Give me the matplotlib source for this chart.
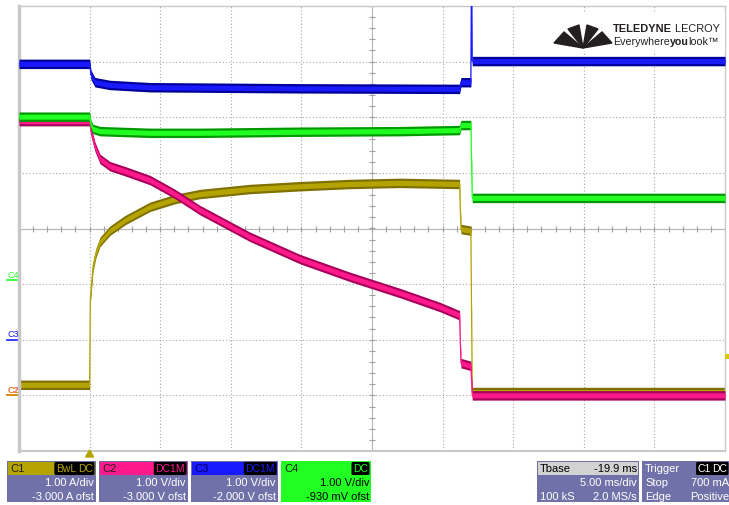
import numpy as np
import matplotlib
matplotlib.use("Agg")
import matplotlib.pyplot as plt
from matplotlib.patches import Rectangle, Polygon

plt.rcParams['font.family'] = ['Liberation Sans', 'DejaVu Sans']

W, H, DPI = 729, 506, 100

# ---- timebase / screen ----
T_LEFT_MS = -5.0
MS_PER_DIV = 5.0
N_HDIV, N_VDIV = 10, 8

# ---- channel settings (scale per div, offset) ----
c1_scale, c1_offset = 1.0, -3.0     # A/div, A
c2_scale, c2_offset = 1.0, -3.0     # V/div, V
c3_scale, c3_offset = 1.0, -2.0     # V/div, V
c4_scale, c4_offset = 1.0, -0.93    # V/div, V
trig_level = 0.7                    # A

# ---- traces (time in ms, values in channel units) ----
c1_t = [-5, 0.0, 0.05, 0.24, 0.45, 0.74, 1.44, 2.51, 4.28, 6.05, 7.82, 11.36, 14.9,
        18.44, 21.98, 26.2, 26.3, 27.0, 27.1, 45]
c1_val = [0.19, 0.19, 1.73, 2.31, 2.56, 2.76, 2.96, 3.15, 3.39, 3.53, 3.62, 3.71, 3.76,
          3.80, 3.82, 3.80, 2.99, 2.96, 0.06, 0.06]

c2_t = [-5, 0.0, 0.1, 0.38, 0.74, 1.44, 2.51, 4.28, 6.05, 7.82, 11.36, 14.9, 18.44,
        21.98, 24.8, 26.2, 26.3, 27.0, 27.1, 45]
c2_val = [4.93, 4.93, 4.75, 4.47, 4.25, 4.12, 4.03, 3.87, 3.62, 3.33, 2.85, 2.45, 2.13,
          1.84, 1.59, 1.44, 0.58, 0.53, 0.00, 0.00]

c3_t = [-5, 0.0, 0.1, 0.38, 1.44, 4.28, 14.9, 26.2, 26.3, 27.0, 27.05, 27.1, 45]
c3_val = [4.96, 4.96, 4.76, 4.63, 4.58, 4.54, 4.52, 4.51, 4.63, 4.63, 6.8, 5.01, 5.01]

c4_t = [-5, 0.0, 0.1, 0.24, 0.74, 4.28, 7.82, 14.9, 21.98, 26.2, 26.3, 27.0, 27.1, 45]
c4_val = [2.94, 2.94, 2.79, 2.72, 2.68, 2.65, 2.65, 2.67, 2.68, 2.70, 2.79, 2.79, 1.48, 1.48]

# ---- styles ----
C1_COL, C1_DARK = '#b5a400', '#7f7000'
C2_COL, C2_DARK = '#ff1a8c', '#a8005a'
C3_COL, C3_DARK = '#1a1aff', '#00009a'
C4_COL, C4_DARK = '#22ff22', '#009a00'
PANEL = '#7171a9'

fig = plt.figure(figsize=(W / DPI, H / DPI), dpi=DPI)
fig.patch.set_facecolor('white')
renderer = fig.canvas.get_renderer()

GX0, GY0, GX1, GY1 = 19, 7, 725, 452   # grid box in pixels
ax = fig.add_axes([GX0 / W, 1 - GY1 / H, (GX1 - GX0) / W, (GY1 - GY0) / H])
ax.set_xlim(T_LEFT_MS, T_LEFT_MS + N_HDIV * MS_PER_DIV)
ax.set_ylim(-N_VDIV / 2, N_VDIV / 2)
ax.set_xticks([]); ax.set_yticks([])
for s in ax.spines.values():
    s.set_color('#c8c8c8'); s.set_linewidth(1.0)
ax.spines['left'].set_linewidth(2.5)
ax.spines['bottom'].set_linewidth(1.5)

# grid
for i in range(1, N_HDIV):
    xv = T_LEFT_MS + i * MS_PER_DIV
    if i == N_HDIV // 2:
        ax.axvline(xv, color='#b4b4b4', lw=0.8, zorder=0)
    else:
        ax.axvline(xv, color='#a8a8a8', lw=0.8, ls=(0, (1, 2)), zorder=0)
for j in range(1, N_VDIV):
    yv = -N_VDIV / 2 + j
    if j == N_VDIV // 2:
        ax.axhline(yv, color='#b4b4b4', lw=0.8, zorder=0)
    else:
        ax.axhline(yv, color='#a8a8a8', lw=0.8, ls=(0, (1, 2)), zorder=0)
# center minor ticks
xc = T_LEFT_MS + N_HDIV / 2 * MS_PER_DIV
xt = np.arange(T_LEFT_MS, T_LEFT_MS + N_HDIV * MS_PER_DIV + 1e-9, MS_PER_DIV / 5)
ax.plot(xt, np.zeros_like(xt), ls='none', marker='|', ms=5, color='#a0a0a0', mew=0.8, zorder=0)
yt = np.arange(-N_VDIV / 2, N_VDIV / 2 + 1e-9, 0.2)
ax.plot(np.full_like(yt, xc), yt, ls='none', marker='_', ms=5, color='#a0a0a0', mew=0.8, zorder=0)


def trace(t, v, scale, offset, col, dark, z):
    t = np.asarray(t, float)
    d = (np.asarray(v, float) + offset) / scale
    ax.fill_between(t, d - 0.085, d + 0.085, color=dark, lw=0, zorder=z)
    ax.fill_between(t, d - 0.045, d + 0.045, color=col, lw=0, zorder=z + 0.1)
    ax.plot(t, d, color=col, lw=0.9, zorder=z + 0.2)


trace(c1_t, c1_val, c1_scale, c1_offset, C1_COL, C1_DARK, 2)
trace(c2_t, c2_val, c2_scale, c2_offset, C2_COL, C2_DARK, 3)
trace(c3_t, c3_val, c3_scale, c3_offset, C3_COL, C3_DARK, 4)
trace(c4_t, c4_val, c4_scale, c4_offset, C4_COL, C4_DARK, 5)


# ---------- figure-pixel helpers ----------
def fx(x):
    return x / W


def fy(y):
    return 1 - y / H


def rect(x0, y0, x1, y1, color, z=1):
    fig.patches.append(Rectangle((fx(x0), fy(y1)), (x1 - x0) / W, (y1 - y0) / H,
                                 transform=fig.transFigure, color=color, lw=0, zorder=z))


def txt(x, y, s, ha='left', color='white', size=8, weight='normal', **kw):
    return fig.text(fx(x), fy(y), s, ha=ha, va='center', color=color, fontsize=size,
                    fontweight=weight, **kw)


def badge(x, y, s, color):
    t = fig.text(fx(x), fy(y), s, ha='right', va='center', color=color, fontsize=7.5,
                 bbox=dict(boxstyle='round,pad=0.08', fc='black', ec='black'))
    return t.get_window_extent(renderer).width


def div_to_pix(div):
    return GY0 + (N_VDIV / 2 - div) * (GY1 - GY0) / N_VDIV


# ground markers on the left
def gmark(offset, scale, label, col):
    ypix = div_to_pix(offset / scale)
    txt(7, ypix - 6, label, color=col, size=6.5)
    fig.lines.append(plt.Line2D([fx(7), fx(17)], [fy(ypix), fy(ypix)],
                                transform=fig.transFigure, color=col, lw=1.2))


gmark(c4_offset, c4_scale, 'C4', C4_COL)
gmark(c3_offset, c3_scale, 'C3', C3_COL)
gmark(c2_offset, c2_scale, 'C2', C2_COL)
gmark(c1_offset, c1_scale, 'C1', '#d8a000')

# trigger position marker (bottom) and level marker (right)
tx = GX0 + (0 - T_LEFT_MS) / MS_PER_DIV * (GX1 - GX0) / N_HDIV
fig.patches.append(Polygon([[fx(tx - 4), fy(458)], [fx(tx + 4), fy(458)], [fx(tx), fy(451)]],
                           closed=True, transform=fig.transFigure, color=C1_COL))
ly = div_to_pix((trig_level + c1_offset) / c1_scale)
rect(725, ly - 2.5, 729, ly + 2.5, '#d8c800', z=3)

# ---------- channel panels ----------
panels = [
    (7, 96, 'C1', C1_COL, ['DC', 'BwL'], '1.00 A/div', '-3.000 A ofst', False),
    (99, 188, 'C2', C2_COL, ['DC1M'], '1.00 V/div', '-3.000 V ofst', False),
    (191, 278, 'C3', C3_COL, ['DC1M'], '1.00 V/div', '-2.000 V ofst', False),
    (281, 371, 'C4', C4_COL, ['DC'], '1.00 V/div', '-930 mV ofst', True),
]
for x0, x1, name, col, badges, l2, l3, sel in panels:
    rect(x0, 462, x1, 503, col if sel else PANEL)
    rect(x0 + 1, 463, x1 - 1, 476, col, z=2)
    txt(x0 + 3, 469.5, name, color='#202020' if name != 'C3' else '#000060', size=8)
    bx = x1 - 3
    for b in badges:
        w = badge(bx, 469.5, b, col)
        bx -= w + 2
    tc = 'black' if sel else 'white'
    txt(x1 - 2, 483.5, l2, ha='right', color=tc)
    txt(x1 - 2, 497, l3, ha='right', color=tc)

# timebase panel
rect(537, 462, 639, 503, PANEL)
rect(538, 463, 638, 476, '#d2d2d2', z=2)
txt(540, 469.5, 'Tbase', color='black')
txt(637, 469.5, '-19.9 ms', ha='right', color='black')
txt(637, 483.5, '5.00 ms/div', ha='right')
txt(540, 497, '100 kS')
txt(637, 497, '2.0 MS/s', ha='right')

# trigger panel
rect(642, 462, 735, 503, PANEL)
txt(645, 469.5, 'Trigger')
bx = 727
for b in ['DC', 'C1']:
    w = badge(bx, 469.5, b, 'white')
    bx -= w + 1
txt(729, 483.5, '700 mA', ha='right')
txt(645, 483.5, 'Stop')
txt(645, 497, 'Edge')
txt(729, 497, 'Positive', ha='right')

# ---------- logo ----------
rect(548, 14, 725, 52, 'white', z=6)
apex = (583, 49)
blades = [[(554, 44), (564, 33)], [(568, 30), (579, 26)], [(587, 26), (598, 30)], [(602, 33), (612, 44)]]
for (a, b) in blades:
    fig.patches.append(Polygon([[fx(apex[0]), fy(apex[1])], [fx(a[0]), fy(a[1])], [fx(b[0]), fy(b[1])]],
                               closed=True, transform=fig.transFigure, color='#231f20', zorder=7))


def seq_text(x, y, pieces, size, target_w):
    arts = []
    for s, wgt in pieces:
        arts.append(fig.text(fx(x), fy(y), s, ha='left', va='center', fontsize=size,
                             fontweight=wgt, color='#231f20', zorder=8))
    total = sum(a.get_window_extent(renderer).width for a in arts)
    k = target_w / total
    cx = x
    for a in arts:
        a.set_fontsize(size * k)
        a.set_x(fx(cx))
        cx += a.get_window_extent(renderer).width


seq_text(613, 29, [('TELEDYNE', 'bold'), (' LECROY', 'normal')], 9.5, 107)
seq_text(613, 42, [('Everywhere', 'normal'), ('you', 'bold'), ('look\u2122', 'normal')], 8.2, 105)

fig.savefig('out.png', dpi=DPI, facecolor='white')
